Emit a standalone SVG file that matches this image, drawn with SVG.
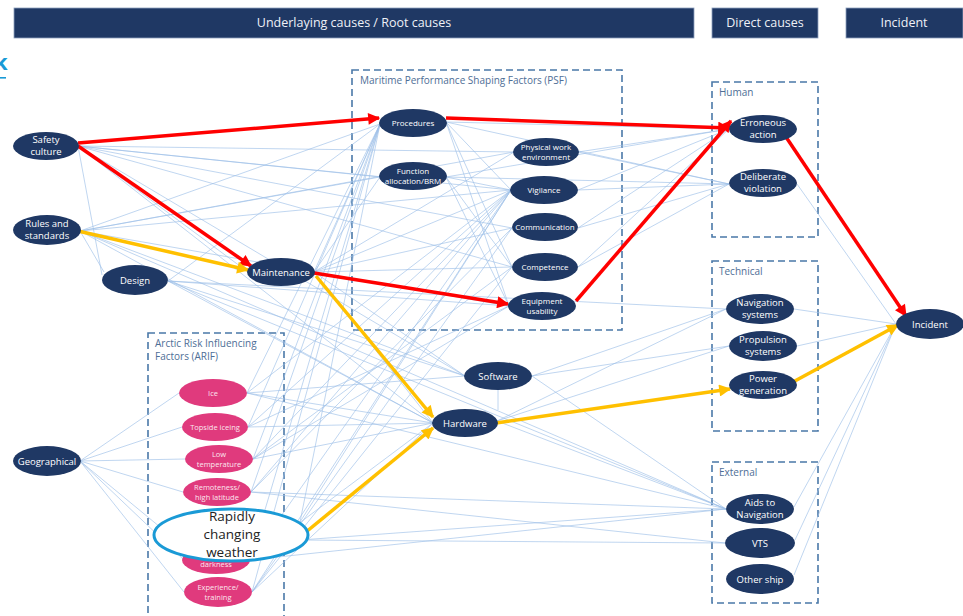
<svg xmlns="http://www.w3.org/2000/svg" width="963" height="616" viewBox="0 0 963 616">
  <style>
    .bar { fill: #1f3864; stroke: #8ea0bd; stroke-width: 0.8; }
    .bartxt { font-family: "Open Sans", "Liberation Sans", sans-serif; font-size: 12.5px; fill: #eef1f7; text-anchor: middle; }
    .grp { fill: none; stroke: #4a78a8; stroke-width: 1.6; stroke-dasharray: 7 4; }
    .grptxt { font-family: "Open Sans", "Liberation Sans", sans-serif; font-size: 10px; fill: #4e6e96; }
    .n ellipse { fill: #1f3864; }
    .n text { font-family: "Open Sans", "Liberation Sans", sans-serif; font-size: 9.5px; fill: #ffffff; text-anchor: middle; }
    .n .sm { font-size: 8px; }
    .p ellipse { fill: #e03a7d; }
    .p text { font-family: "Open Sans", "Liberation Sans", sans-serif; font-size: 7.5px; fill: #fbe6ee; text-anchor: middle; }
    .thin { fill: none; stroke: #9dbfe8; stroke-width: 0.65; }
    .red { fill: none; stroke: #ff0000; stroke-width: 3.5; }
    .yel { fill: none; stroke: #ffc000; stroke-width: 3.5; }
    .wx { font-family: "Open Sans", "Liberation Sans", sans-serif; font-size: 13.5px; fill: #222222; text-anchor: middle; }
  </style>
  <defs>
    <marker id="ar" viewBox="0 0 10 10" refX="9" refY="5" markerWidth="13" markerHeight="12" markerUnits="userSpaceOnUse" orient="auto">
      <path d="M0,0 L10,5 L0,10 z" fill="#ff0000"/>
    </marker>
    <marker id="ay" viewBox="0 0 10 10" refX="9" refY="5" markerWidth="13" markerHeight="12" markerUnits="userSpaceOnUse" orient="auto">
      <path d="M0,0 L10,5 L0,10 z" fill="#ffc000"/>
    </marker>
  </defs>
  <rect width="963" height="616" fill="#ffffff"/>

  <!-- column headers -->
  <g id="headers">
    <rect class="bar" x="14" y="8" width="680" height="30"/>
    <text class="bartxt" x="354" y="27">Underlaying causes / Root causes</text>
    <rect class="bar" x="712" y="8" width="106" height="30"/>
    <text class="bartxt" x="765" y="27">Direct causes</text>
    <rect class="bar" x="846" y="8" width="117" height="30"/>
    <text class="bartxt" x="904" y="27">Incident</text>
  </g>

  <!-- clipped heading fragment at the left edge -->
  <g id="edge-mark">
    <text x="-6" y="70" font-family="Open Sans, Liberation Sans, sans-serif" font-size="22" font-weight="bold" fill="#1a9ad6">k</text>
    <rect x="0" y="77" width="6" height="1.6" fill="#1a9ad6"/>
  </g>

  <!-- group frames -->
  <g id="frames">
    <rect class="grp" x="352" y="70" width="270" height="260"/>
    <text class="grptxt" x="360" y="84">Maritime Performance Shaping Factors (PSF)</text>
    <rect class="grp" x="148" y="333" width="136" height="290"/>
    <text class="grptxt" x="155" y="347">Arctic Risk Influencing</text>
    <text class="grptxt" x="155" y="360">Factors (ARIF)</text>
    <rect class="grp" x="712" y="82" width="106" height="155"/>
    <text class="grptxt" x="719" y="96">Human</text>
    <rect class="grp" x="712" y="261" width="106" height="170"/>
    <text class="grptxt" x="719" y="275">Technical</text>
    <rect class="grp" x="712" y="462" width="106" height="141"/>
    <text class="grptxt" x="719" y="476">External</text>
  </g>

  <!-- connectors -->
  <g id="connectors">
    <path class="thin" d="
      M78,146 L380,177 M78,146 L514,152 M78,146 L511,190 M78,146 L512,228 M78,146 L512,267 M78,146 L102,275 M78,146 L433,423 M78,146 L465,376 M78,146 L248,272
      M80,231 L380,124 M80,231 L380,177 M80,231 L514,152 M80,231 L511,190 M80,231 L509,306 M80,231 L104,272 M80,231 L433,423 M80,231 L465,376 M80,231 L726,509
      M168,281 L380,124 M168,281 L509,306 M168,281 L465,376 M168,281 L433,423 M168,281 L726,509 M168,281 L726,309
      M314,272 L380,124 M314,272 L380,177 M314,272 L514,152 M314,272 L511,190 M314,272 L512,228 M314,272 L512,267 M314,272 L465,376 M314,272 L433,423
      M80,461 L179,393 M80,461 L182,427 M80,461 L185,459 M80,461 L183,492 M80,461 L160,527 M80,461 L184,560 M80,461 L184,592
      M247,393 L380,124 M247,393 L511,190 M247,393 L433,423 M247,393 L726,509 M247,393 L465,376
      M248,427 L380,124 M248,427 L511,190 M248,427 L433,423 M248,427 L509,306
      M253,459 L380,124 M253,459 L511,190 M253,459 L512,267 M253,459 L433,423 M253,459 L509,306
      M251,492 L380,124 M251,492 L512,228 M251,492 L726,509 M251,492 L725,543 M251,492 L511,190
      M300,522 L380,124 M300,522 L511,190 M300,540 L726,509 M300,540 L725,543
      M250,560 L380,124 M250,560 L511,190 M250,560 L726,509 M250,560 L433,423
      M252,592 L380,124 M252,592 L511,190 M252,592 L512,267 M252,592 L512,228 M252,592 L433,423
      M446,122 L729,129 M578,152 L729,129 M578,190 L729,129 M578,228 L729,129 M578,267 L729,129 M446,177 L729,129
      M578,152 L729,184 M578,190 L729,184 M578,228 L729,184 M578,267 L729,184 M446,122 L729,184 M446,177 L729,184
      M446,122 L512,267 M446,122 L511,190 M446,122 L509,306 M446,177 L512,267 M446,177 L509,306 M446,177 L511,190
      M532,376 L726,309 M532,376 L729,346 M532,376 L726,509 M498,390 L498,410 M497,421 L726,309 M497,421 L726,509 M497,421 L729,346
      M797,184 L896,324 M794,309 L896,324 M797,346 L896,324 M794,507 L896,324 M795,540 L896,324 M794,575 L896,324"/>
    <path class="red" marker-end="url(#ar)" d="M78,143 L379,118"/>
    <path class="red" marker-end="url(#ar)" d="M78,146 L251,266"/>
    <path class="red" marker-end="url(#ar)" d="M446,118 L729,128"/>
    <path class="red" marker-end="url(#ar)" d="M314,273 L508,304"/>
    <path class="red" marker-end="url(#ar)" d="M576,301 L731,121"/>
    <path class="red" marker-end="url(#ar)" d="M786,137 L906,316"/>
    <path class="yel" marker-end="url(#ay)" d="M78,231 L248,270"/>
    <path class="yel" marker-end="url(#ay)" d="M316,276 L433,417"/>
    <path class="yel" marker-end="url(#ay)" d="M306,532 L433,428"/>
    <path class="yel" marker-end="url(#ay)" d="M496,423 L730,389"/>
    <path class="yel" marker-end="url(#ay)" d="M793,382 L898,325"/>
  </g>

  <!-- root cause nodes -->
  <g id="safety-culture" class="n"><ellipse cx="46" cy="146" rx="33" ry="14"/><text x="46" y="143">Safety</text><text x="46" y="155">culture</text></g>
  <g id="rules-standards" class="n"><ellipse cx="47" cy="230" rx="34" ry="15"/><text x="47" y="227">Rules and</text><text x="47" y="239">standards</text></g>
  <g id="design" class="n"><ellipse cx="135" cy="280" rx="33" ry="15"/><text x="135" y="284">Design</text></g>
  <g id="maintenance" class="n"><ellipse cx="281" cy="272" rx="34" ry="14"/><text x="281" y="276">Maintenance</text></g>
  <g id="geographical" class="n"><ellipse cx="47" cy="461" rx="34" ry="15"/><text x="47" y="465">Geographical</text></g>

  <!-- PSF nodes -->
  <g id="procedures" class="n"><ellipse cx="413" cy="123" rx="34" ry="14"/><text class="sm" x="413" y="126">Procedures</text></g>
  <g id="function-allocation" class="n"><ellipse cx="413" cy="176" rx="34" ry="14"/><text class="sm" x="413" y="174">Function</text><text class="sm" x="413" y="184">allocation/BRM</text></g>
  <g id="physical-work" class="n"><ellipse cx="546" cy="152" rx="33" ry="14"/><text class="sm" x="546" y="150">Physical work</text><text class="sm" x="546" y="160">environment</text></g>
  <g id="vigilance" class="n"><ellipse cx="544" cy="190" rx="34" ry="14"/><text class="sm" x="544" y="193">Vigilance</text></g>
  <g id="communication" class="n"><ellipse cx="545" cy="227" rx="33" ry="14"/><text class="sm" x="545" y="230">Communication</text></g>
  <g id="competence" class="n"><ellipse cx="545" cy="267" rx="33" ry="14"/><text class="sm" x="545" y="270">Competence</text></g>
  <g id="equipment-usability" class="n"><ellipse cx="542" cy="306" rx="34" ry="14"/><text class="sm" x="542" y="304">Equipment</text><text class="sm" x="542" y="314">usability</text></g>

  <!-- technical root nodes -->
  <g id="software" class="n"><ellipse cx="498" cy="376" rx="34" ry="14"/><text x="498" y="380">Software</text></g>
  <g id="hardware" class="n"><ellipse cx="465" cy="423" rx="33" ry="14"/><text x="465" y="427">Hardware</text></g>

  <!-- ARIF nodes -->
  <g id="ice" class="p"><ellipse cx="213" cy="393" rx="34" ry="14"/><text x="213" y="396">Ice</text></g>
  <g id="topside-iceing" class="p"><ellipse cx="215" cy="427" rx="33" ry="14"/><text x="215" y="430">Topside iceing</text></g>
  <g id="low-temperature" class="p"><ellipse cx="219" cy="459" rx="34" ry="14"/><text x="219" y="457">Low</text><text x="219" y="467">temperature</text></g>
  <g id="remoteness" class="p"><ellipse cx="217" cy="492" rx="34" ry="14"/><text x="217" y="490">Remoteness/</text><text x="217" y="500">high latitude</text></g>
  <g id="darkness" class="p"><ellipse cx="216" cy="560" rx="34" ry="14"/><text x="216" y="567">darkness</text></g>
  <g id="experience" class="p"><ellipse cx="218" cy="592" rx="34" ry="15"/><text x="218" y="590">Experience/</text><text x="218" y="600">training</text></g>

  <!-- highlighted weather factor -->
  <g id="rapid-weather">
    <ellipse cx="231" cy="535" rx="77" ry="26" fill="#ffffff" stroke="#1a9ad6" stroke-width="3"/>
    <text class="wx" x="232" y="521">Rapidly</text>
    <text class="wx" x="232" y="539">changing</text>
    <text class="wx" x="232" y="557">weather</text>
  </g>

  <!-- direct cause nodes -->
  <g id="erroneous-action" class="n"><ellipse cx="763" cy="129" rx="34" ry="14"/><text x="763" y="126">Erroneous</text><text x="763" y="138">action</text></g>
  <g id="deliberate-violation" class="n"><ellipse cx="763" cy="183" rx="34" ry="14"/><text x="763" y="180">Deliberate</text><text x="763" y="192">violation</text></g>
  <g id="navigation-systems" class="n"><ellipse cx="760" cy="309" rx="34" ry="15"/><text x="760" y="306">Navigation</text><text x="760" y="318">systems</text></g>
  <g id="propulsion-systems" class="n"><ellipse cx="763" cy="346" rx="34" ry="15"/><text x="763" y="343">Propulsion</text><text x="763" y="355">systems</text></g>
  <g id="power-generation" class="n"><ellipse cx="763" cy="385" rx="34" ry="14"/><text x="763" y="382">Power</text><text x="763" y="394">generation</text></g>
  <g id="aids-to-navigation" class="n"><ellipse cx="760" cy="509" rx="34" ry="15"/><text x="760" y="506">Aids to</text><text x="760" y="518">Navigation</text></g>
  <g id="vts" class="n"><ellipse cx="760" cy="543" rx="35" ry="15"/><text x="760" y="547">VTS</text></g>
  <g id="other-ship" class="n"><ellipse cx="760" cy="579" rx="34" ry="15"/><text x="760" y="583">Other ship</text></g>

  <!-- incident -->
  <g id="incident" class="n"><ellipse cx="930" cy="324" rx="34" ry="15"/><text x="930" y="328">Incident</text></g>
</svg>
